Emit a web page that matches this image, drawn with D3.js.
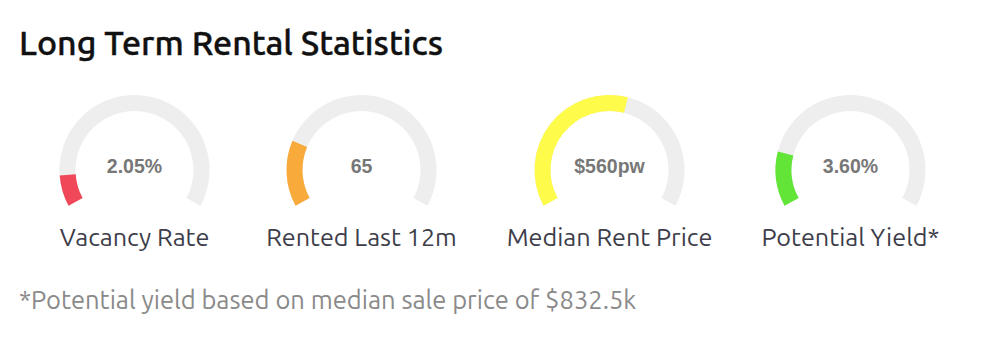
<!DOCTYPE html>
<html>
<head>
<meta charset="utf-8">
<script src="https://cdn.jsdelivr.net/npm/d3@7"></script>
<style>
  body { margin: 0; background: #fff; }
  svg { display: block; }
</style>
</head>
<body>
<svg id="chart" width="989" height="352"></svg>
<script>
// data
var labels = ["Vacancy Rate", "Rented Last 12m", "Median Rent Price", "Potential Yield*"];
var values = [2.05, 65, 560, 3.6];
var maxValues = [20, 300, 1000, 20];
var valueText = ["2.05%", "65", "$560pw", "3.60%"];
var colors = ["#f04858", "#f8aa3a", "#fffb4a", "#62e536"];
var title = "Long Term Rental Statistics";
var footnote = "*Potential yield based on median sale price of $832.5k";

var svg = d3.select("#chart"),
    width = +svg.attr("width"),
    height = +svg.attr("height");

var font = "Ubuntu, 'Open Sans', sans-serif";

// gauge positions (columns are not evenly spaced in the original)
var xPos = d3.scaleOrdinal()
    .domain(labels)
    .range([134.5, 361.5, 609.5, 850.5]);

var cy = 170,
    outerR = 75,
    innerR = 59;

var startA = -0.658 * Math.PI,
    endA = 0.658 * Math.PI;

// value -> angle
var angle = labels.map(function (d, i) {
    return d3.scaleLinear().domain([0, maxValues[i]]).range([startA, endA]).clamp(true);
});

var arc = d3.arc()
    .innerRadius(innerR)
    .outerRadius(outerR);

// title
svg.append("text")
    .attr("x", 19)
    .attr("y", 55)
    .attr("font-family", font)
    .attr("font-size", 34)
    .attr("font-weight", 500)
    .attr("fill", "#111")
    .attr("stroke", "#111")
    .attr("stroke-width", 0.4)
    .text(title);

var g = svg.selectAll("g.gauge")
    .data(labels)
    .enter().append("g")
    .attr("class", "gauge")
    .attr("transform", function (d) { return "translate(" + xPos(d) + "," + cy + ")"; });

// track
g.append("path")
    .attr("fill", "#eeeeee")
    .attr("d", arc({ startAngle: startA, endAngle: endA }));

// value arc
g.append("path")
    .attr("fill", function (d, i) { return colors[i]; })
    .attr("d", function (d, i) {
        return arc({ startAngle: startA, endAngle: angle[i](values[i]) });
    });

// value text
g.append("text")
    .attr("text-anchor", "middle")
    .attr("y", 3)
    .attr("font-family", "'Liberation Sans', Arial, sans-serif")
    .attr("font-weight", "bold")
    .attr("font-size", 19.5)
    .attr("fill", "#777")
    .text(function (d, i) { return valueText[i]; });

// label
g.append("text")
    .attr("text-anchor", "middle")
    .attr("y", 76)
    .attr("font-family", font)
    .attr("font-size", 25.2)
    .attr("fill", "#3d3d4a")
    .text(function (d) { return d; });

// footnote
svg.append("text")
    .attr("x", 19)
    .attr("y", 309)
    .attr("font-family", font)
    .attr("font-size", 25.5)
    .attr("fill", "#8a8a8a")
    .text(footnote);
</script>
</body>
</html>
